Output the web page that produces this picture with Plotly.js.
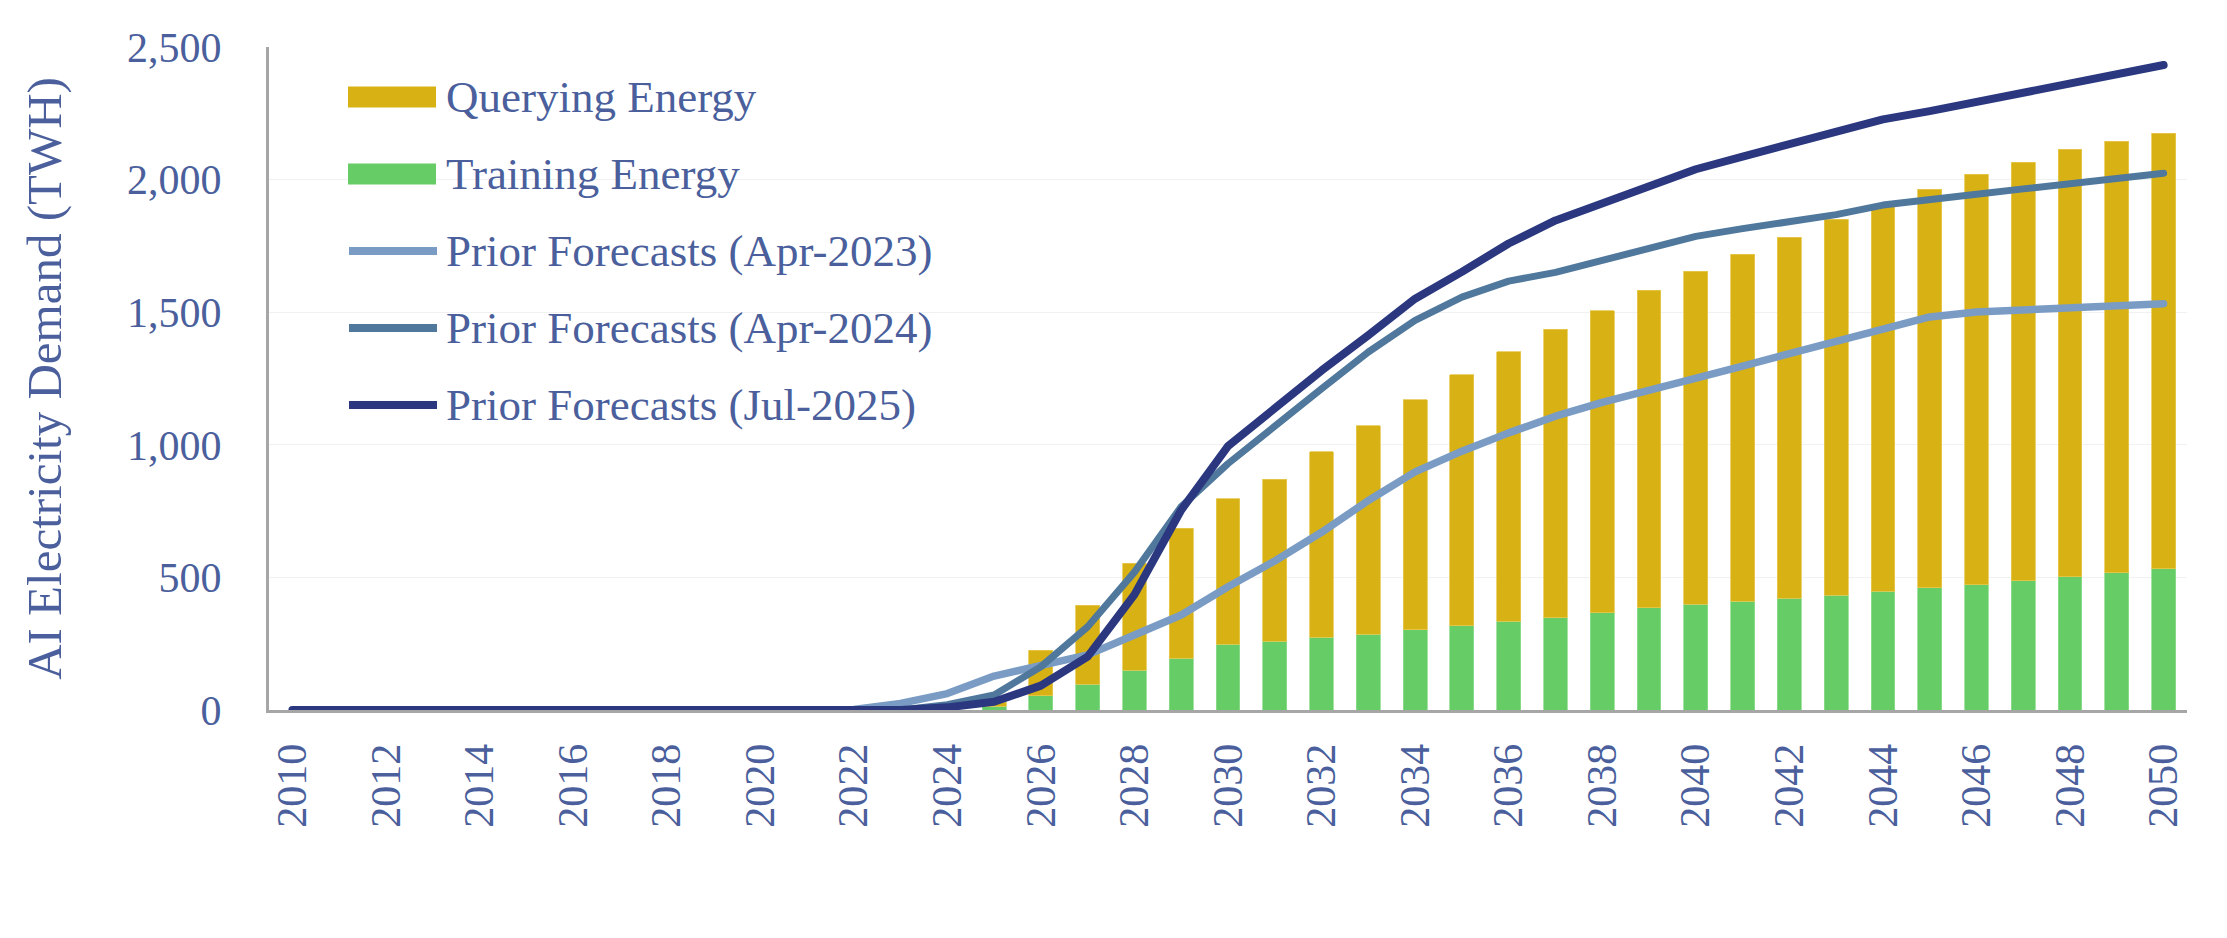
<!DOCTYPE html>
<html>
<head>
<meta charset="utf-8">
<script src="https://cdn.plot.ly/plotly-3.0.1.min.js"></script>
<style>
  html, body { margin: 0; padding: 0; background: #ffffff; }
  #chart { width: 2227px; height: 938px; }
  .scatterlayer .js-line { stroke-linecap: round; stroke-linejoin: round; }
</style>
</head>
<body>
<div id="chart"></div>
<script>
// AI electricity demand (TWh), yearly 2010-2050
const years = [2010,2011,2012,2013,2014,2015,2016,2017,2018,2019,2020,2021,2022,2023,2024,2025,2026,2027,2028,2029,2030,
               2031,2032,2033,2034,2035,2036,2037,2038,2039,2040,2041,2042,2043,2044,2045,2046,2047,2048,2049,2050];

const trainingEnergy = [0,0,0,0,0,0,0,0,0,0,0,0,0,0,0,
  14,53,97,150,195,248,260,274,285,302,317,334,348,367,386,398,410,421,433,447,461,473,487,502,517,533];

const queryingEnergy = [0,0,0,0,0,0,0,0,0,0,0,0,0,0,0,
  16,173,298,403,491,548,610,699,786,868,947,1017,1087,1139,1196,1256,1309,1361,1418,1461,1503,1548,1579,1613,1628,1642];

const forecastApr2023 = [null,null,null,null,null,null,null,null,0,0,0,0,
  2,25,62,128,166,208,283,358,465,562,670,790,898,976,1045,1108,1160,1208,1254,1297,1344,1389,1434,1482,1501,1508,1515,1523,1532];

const forecastApr2024 = [null,null,null,null,null,null,null,null,0,0,0,0,0,0,
  20,57,163,314,520,767,929,1066,1211,1350,1469,1557,1617,1650,1694,1738,1786,1815,1840,1868,1904,1927,1945,1965,1986,2004,2024];

const forecastJul2025 = [0,0,0,0,0,0,0,0,0,0,0,0,0,0,
  10,31,92,201,435,754,995,1142,1280,1413,1551,1652,1759,1846,1910,1975,2039,2087,2135,2180,2227,2258,2292,2327,2363,2398,2432];

const seriesNames = ['Querying Energy', 'Training Energy',
  'Prior Forecasts (Apr-2023)', 'Prior Forecasts (Apr-2024)', 'Prior Forecasts (Jul-2025)'];

const xTickYears = [2010,2012,2014,2016,2018,2020,2022,2024,2026,2028,2030,2032,2034,2036,2038,2040,2042,2044,2046,2048,2050];
const yTickValues = [0,500,1000,1500,2000,2500];

const COLORS = {
  querying: '#d8b214',
  training: '#66cc66',
  apr2023: '#7a9cc4',
  apr2024: '#4f789c',
  jul2025: '#2b3880',
  text: '#4a5f9c',
  axis: '#a6a6a6',
  grid: '#f1f1f1'
};
const FONT = '"Liberation Serif", "Times New Roman", serif';

const traces = [
  { type: 'bar', name: seriesNames[1], x: years, y: trainingEnergy, width: 0.51,
    marker: { color: COLORS.training, line: { color: '#8edc8e', width: 0.8 } } },
  { type: 'bar', name: seriesNames[0], x: years, y: queryingEnergy, width: 0.51,
    marker: { color: COLORS.querying, line: { color: '#e6c850', width: 0.8 } } },
  { type: 'scatter', mode: 'lines', name: seriesNames[2], x: years, y: forecastApr2023,
    line: { color: COLORS.apr2023, width: 7.5 } },
  { type: 'scatter', mode: 'lines', name: seriesNames[3], x: years, y: forecastApr2024,
    line: { color: COLORS.apr2024, width: 7 } },
  { type: 'scatter', mode: 'lines', name: seriesNames[4], x: years, y: forecastJul2025,
    line: { color: COLORS.jul2025, width: 8 } }
];

// Plot area in page pixels
const M = { l: 269, r: 40, t: 47, b: 228 };
const W = 2227, H = 938;
const plotW = W - M.l - M.r, plotH = H - M.t - M.b;
const px = v => (v - M.l) / plotW;
const py = v => (H - M.b - v) / plotH;

// Legend drawn as swatches + labels inside the plot's upper left
const legendRows = [
  { label: seriesNames[0], kind: 'box', color: COLORS.querying, y: 97 },
  { label: seriesNames[1], kind: 'box', color: COLORS.training, y: 174 },
  { label: seriesNames[2], kind: 'line', color: COLORS.apr2023, y: 251 },
  { label: seriesNames[3], kind: 'line', color: COLORS.apr2024, y: 328 },
  { label: seriesNames[4], kind: 'line', color: COLORS.jul2025, y: 405 }
];
const shapes = [];
const annotations = [];
legendRows.forEach(r => {
  if (r.kind === 'box') {
    shapes.push({ type: 'rect', xref: 'paper', yref: 'paper',
      x0: px(348), x1: px(436), y0: py(r.y - 10.5), y1: py(r.y + 10.5),
      fillcolor: r.color, line: { width: 0 } });
  } else {
    shapes.push({ type: 'line', xref: 'paper', yref: 'paper',
      x0: px(349), x1: px(437), y0: py(r.y), y1: py(r.y),
      line: { color: r.color, width: 8 } });
  }
  annotations.push({ xref: 'paper', yref: 'paper', x: px(444), y: py(r.y),
    xanchor: 'left', yanchor: 'middle', showarrow: false, text: r.label,
    font: { family: FONT, size: 45, color: COLORS.text } });
});

const layout = {
  width: W, height: H,
  margin: M,
  paper_bgcolor: '#ffffff', plot_bgcolor: '#ffffff',
  barmode: 'stack', bargap: 0.49,
  showlegend: false,
  hovermode: false,
  font: { family: FONT, color: COLORS.text },
  xaxis: {
    range: [2009.5, 2050.5],
    tickmode: 'array', tickvals: xTickYears, ticktext: xTickYears.map(String),
    tickangle: -90, ticks: '', ticklabelstandoff: 14,
    tickfont: { family: FONT, size: 42, color: COLORS.text },
    showgrid: false, zeroline: false,
    showline: true, linecolor: COLORS.axis, linewidth: 3,
    automargin: false
  },
  yaxis: {
    range: [0, 2500],
    tickmode: 'array', tickvals: yTickValues, ticktext: yTickValues.map(v => v.toLocaleString('en-US')),
    ticks: '', ticklabelstandoff: 36,
    tickfont: { family: FONT, size: 42, color: COLORS.text },
    showgrid: true, gridcolor: COLORS.grid, gridwidth: 1,
    zeroline: false,
    showline: true, linecolor: COLORS.axis, linewidth: 3,
    title: { text: 'AI Electricity Demand (TWH)', standoff: 50,
             font: { family: FONT, size: 49, color: COLORS.text } },
    automargin: false
  },
  shapes: shapes,
  annotations: annotations
};

Plotly.newPlot('chart', traces, layout, { displayModeBar: false, staticPlot: true });
</script>
</body>
</html>
